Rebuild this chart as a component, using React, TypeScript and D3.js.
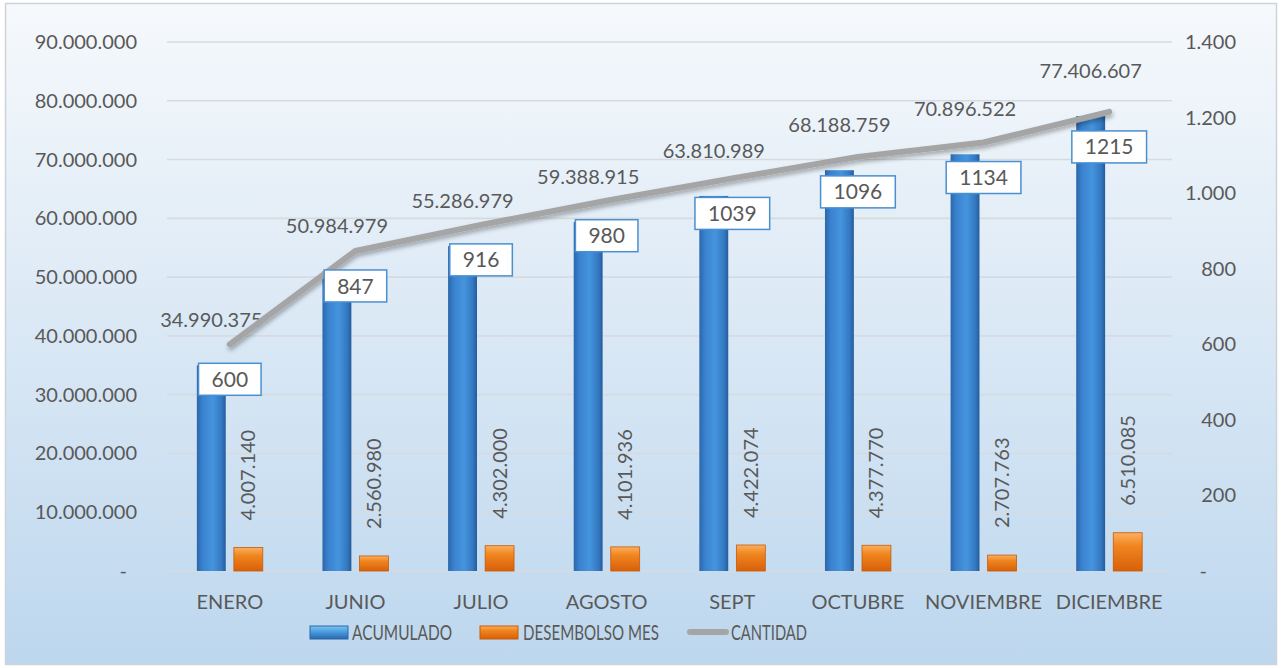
import React, { useRef, useEffect } from 'react';
import * as d3 from 'd3';

const categories = ['ENERO', 'JUNIO', 'JULIO', 'AGOSTO', 'SEPT', 'OCTUBRE', 'NOVIEMBRE', 'DICIEMBRE'];
const acumulado = [34990375, 50984979, 55286979, 59388915, 63810989, 68188759, 70896522, 77406607];
const desembolso = [4007140, 2560980, 4302000, 4101936, 4422074, 4377770, 2707763, 6510085];
const cantidad = [600, 847, 916, 980, 1039, 1096, 1134, 1215];
const leftTicks = [0, 10e6, 20e6, 30e6, 40e6, 50e6, 60e6, 70e6, 80e6, 90e6];
const rightTicks = [0, 200, 400, 600, 800, 1000, 1200, 1400];

const W = 1281;
const H = 668;
const FONT = 'Lato, "Open Sans", sans-serif';
const TXT = '#595959';

const locale = d3.formatLocale({ decimal: ',', thousands: '.', grouping: [3], currency: ['', ''] });
const fmt = locale.format(',d');

function App() {
  const svgRef = useRef<SVGSVGElement>(null);

  useEffect(() => {
    const svg = d3.select(svgRef.current);
    svg.selectAll('*').remove();

    const defs = svg.append('defs');
    const bg = defs.append('linearGradient').attr('id', 'bg').attr('x1', 0).attr('y1', 0).attr('x2', 0).attr('y2', 1);
    bg.append('stop').attr('offset', '0%').attr('stop-color', '#f6f9fc');
    bg.append('stop').attr('offset', '50%').attr('stop-color', '#dae8f5');
    bg.append('stop').attr('offset', '100%').attr('stop-color', '#bdd7ee');

    const blue = defs.append('linearGradient').attr('id', 'blue').attr('x1', 0).attr('y1', 0).attr('x2', 1).attr('y2', 0);
    blue.append('stop').attr('offset', '0%').attr('stop-color', '#2b67ab');
    blue.append('stop').attr('offset', '20%').attr('stop-color', '#3a82cf');
    blue.append('stop').attr('offset', '55%').attr('stop-color', '#4594de');
    blue.append('stop').attr('offset', '85%').attr('stop-color', '#3479c2');
    blue.append('stop').attr('offset', '100%').attr('stop-color', '#245c9c');

    const orange = defs.append('linearGradient').attr('id', 'orange').attr('x1', 0).attr('y1', 0).attr('x2', 0).attr('y2', 1);
    orange.append('stop').attr('offset', '0%').attr('stop-color', '#fbb060');
    orange.append('stop').attr('offset', '35%').attr('stop-color', '#f0851e');
    orange.append('stop').attr('offset', '100%').attr('stop-color', '#d8600a');

    const blueLeg = defs.append('linearGradient').attr('id', 'blueLeg').attr('x1', 0).attr('y1', 0).attr('x2', 0).attr('y2', 1);
    blueLeg.append('stop').attr('offset', '0%').attr('stop-color', '#7cc4f0');
    blueLeg.append('stop').attr('offset', '45%').attr('stop-color', '#4a9be0');
    blueLeg.append('stop').attr('offset', '100%').attr('stop-color', '#2a66aa');

    const shadow = defs.append('filter').attr('id', 'shadow').attr('x', '-10%').attr('y', '-10%').attr('width', '120%').attr('height', '140%');
    shadow.append('feDropShadow').attr('dx', 1).attr('dy', 3).attr('stdDeviation', 2).attr('flood-color', '#000').attr('flood-opacity', 0.3);

    // background
    svg.append('rect')
      .attr('x', 5.5).attr('y', 3.5).attr('width', 1271).attr('height', 661)
      .attr('fill', 'url(#bg)').attr('stroke', '#cfd3d8').attr('stroke-width', 1.5);

    const left = 167;
    const right = 1172;
    const yL = d3.scaleLinear().domain([0, 90e6]).range([571, 42]);
    const yR = d3.scaleLinear().domain([0, 1400]).range([571, 42]);
    const x0 = d3.scaleBand().domain(categories).range([left, right]).paddingInner(0.475).paddingOuter(0.2375);
    const x1 = d3.scaleBand().domain(['a', 'd']).range([0, x0.bandwidth()]).paddingInner(0.22);
    const cx = (c: string) => (x0(c) as number) + x0.bandwidth() / 2;

    // gridlines
    svg.append('g').selectAll('line').data(leftTicks).join('line')
      .attr('x1', left).attr('x2', right)
      .attr('y1', d => yL(d)).attr('y2', d => yL(d))
      .attr('stroke', '#d6dbe0').attr('stroke-width', 1.6);

    // left axis
    svg.append('g').selectAll('text').data(leftTicks).join('text')
      .attr('x', d => (d === 0 ? 127 : 137))
      .attr('y', d => yL(d) + 7)
      .attr('text-anchor', 'end')
      .attr('font-family', FONT).attr('font-size', 20).attr('fill', TXT)
      .text(d => (d === 0 ? '-' : fmt(d)));

    // right axis
    svg.append('g').selectAll('text').data(rightTicks).join('text')
      .attr('x', d => (d === 0 ? 1207 : 1236))
      .attr('y', d => yR(d) + 7)
      .attr('text-anchor', 'end')
      .attr('font-family', FONT).attr('font-size', 20).attr('fill', TXT)
      .text(d => (d === 0 ? '-' : fmt(d)));

    const rows = categories.map((c, i) => ({ c, a: acumulado[i], d: desembolso[i], n: cantidad[i] }));

    // acumulado bars
    svg.append('g').selectAll('rect').data(rows).join('rect')
      .attr('x', r => (x0(r.c) as number) + (x1('a') as number))
      .attr('y', r => yL(r.a))
      .attr('width', x1.bandwidth())
      .attr('height', r => yL(0) - yL(r.a))
      .attr('fill', 'url(#blue)');

    // desembolso bars
    svg.append('g').selectAll('rect').data(rows).join('rect')
      .attr('x', r => (x0(r.c) as number) + (x1('d') as number))
      .attr('y', r => yL(r.d))
      .attr('width', x1.bandwidth())
      .attr('height', r => yL(0) - yL(r.d))
      .attr('fill', 'url(#orange)').attr('stroke', '#c45a0a').attr('stroke-width', 0.8);

    // acumulado labels
    svg.append('g').selectAll('text').data(rows).join('text')
      .attr('x', r => (x0(r.c) as number) + (x1('a') as number) + x1.bandwidth() / 2)
      .attr('y', r => yL(r.a) - 38)
      .attr('text-anchor', 'middle')
      .attr('font-family', FONT).attr('font-size', 20).attr('fill', TXT)
      .text(r => fmt(r.a));

    // desembolso labels (vertical)
    svg.append('g').selectAll('text').data(rows).join('text')
      .attr('transform', r => {
        const x = (x0(r.c) as number) + (x1('d') as number) + x1.bandwidth() / 2;
        return `translate(${x},${yL(r.d) - 27}) rotate(-90)`;
      })
      .attr('dy', '0.35em')
      .attr('text-anchor', 'start')
      .attr('font-family', FONT).attr('font-size', 20).attr('fill', TXT)
      .text(r => fmt(r.d));

    // cantidad line
    const line = d3.line<typeof rows[0]>().x(r => cx(r.c)).y(r => yR(r.n));
    svg.append('path').datum(rows)
      .attr('d', line)
      .attr('fill', 'none').attr('stroke', '#a5a5a5').attr('stroke-width', 6)
      .attr('stroke-linecap', 'round').attr('stroke-linejoin', 'round')
      .attr('filter', 'url(#shadow)');

    // cantidad boxes
    const boxes = svg.append('g').selectAll('g').data(rows).join('g')
      .attr('transform', r => `translate(${cx(r.c)},${yR(r.n) + 35})`);
    const rects = boxes.append('rect')
      .attr('fill', '#fff').attr('stroke', '#4a8fd0').attr('stroke-width', 1.5);
    const labels = boxes.append('text')
      .attr('text-anchor', 'middle').attr('dy', '0.36em')
      .attr('font-family', FONT).attr('font-size', 21).attr('fill', TXT)
      .text(r => String(r.n));
    labels.each(function (_, i) {
      const w = (this as SVGTextElement).getComputedTextLength() + 26;
      d3.select(rects.nodes()[i]).attr('x', -w / 2).attr('y', -16).attr('width', w).attr('height', 32);
    });

    // category labels
    svg.append('g').selectAll('text').data(categories).join('text')
      .attr('x', c => cx(c))
      .attr('y', 609)
      .attr('text-anchor', 'middle')
      .attr('font-family', FONT).attr('font-size', 20).attr('fill', TXT)
      .text(c => c);

    // legend
    const lg = svg.append('g').attr('font-family', FONT).attr('font-size', 21).attr('fill', TXT);
    lg.append('rect').attr('x', 310).attr('y', 626).attr('width', 38).attr('height', 13)
      .attr('fill', 'url(#blueLeg)').attr('stroke', '#2a66aa').attr('stroke-width', 1);
    lg.append('text').attr('x', 352).attr('y', 640).attr('textLength', 100)
      .attr('lengthAdjust', 'spacingAndGlyphs').text('ACUMULADO');
    lg.append('rect').attr('x', 480).attr('y', 626).attr('width', 38).attr('height', 13)
      .attr('fill', 'url(#orange)').attr('stroke', '#c45a0a').attr('stroke-width', 1);
    lg.append('text').attr('x', 523).attr('y', 640).attr('textLength', 136)
      .attr('lengthAdjust', 'spacingAndGlyphs').text('DESEMBOLSO MES');
    lg.append('line').attr('x1', 690).attr('x2', 726).attr('y1', 632).attr('y2', 632)
      .attr('stroke', '#a5a5a5').attr('stroke-width', 6).attr('stroke-linecap', 'round');
    lg.append('text').attr('x', 731).attr('y', 640).attr('textLength', 76)
      .attr('lengthAdjust', 'spacingAndGlyphs').text('CANTIDAD');
  }, []);

  return (
    <svg
      ref={svgRef}
      width={W}
      height={H}
      style={{ position: 'absolute', left: 0, top: 0, display: 'block' }}
    />
  );
}

export default App;
